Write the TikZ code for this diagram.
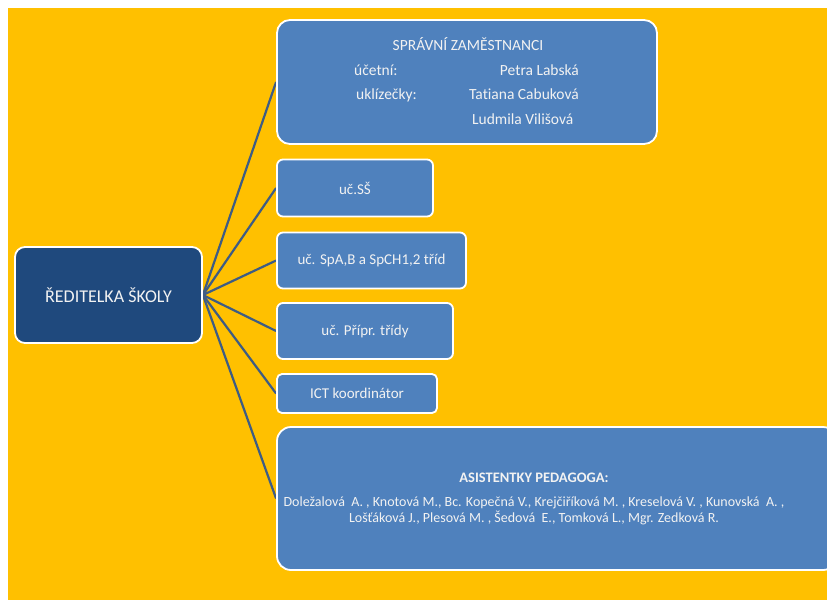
\documentclass[tikz,border=0pt]{standalone}
\usepackage{fontspec}
\setmainfont{Carlito}[Ligatures=NoCommon]
\definecolor{bgorange}{RGB}{255,192,0}
\definecolor{boxblue}{RGB}{79,129,189}
\definecolor{headblue}{RGB}{31,73,125}
\definecolor{linkblue}{RGB}{62,92,132}
\definecolor{txt}{RGB}{242,242,242}
\pgfdeclarelayer{bottom}
\pgfdeclarelayer{links}
\pgfsetlayers{bottom,links,main}
\tikzset{
  unitbox/.style={draw=white, line width=1.8pt, fill=boxblue, inner sep=0pt,
    text=txt, font=\fontsize{15}{18}\selectfont},
  headbox/.style={unitbox, fill=headblue, font=\fontsize{18}{21}\selectfont},
  link/.style={draw=linkblue, line width=2.2pt},
  lbl/.style={inner sep=0pt, text=txt, font=\fontsize{15.5}{18}\selectfont},
  asitxt/.style={inner sep=0pt, text=txt, font=\fontsize{14}{17}\selectfont, align=center}
}
\begin{document}
\begin{tikzpicture}[x=1pt,y=-1pt]
\useasboundingbox (0,0) rectangle (827,600);
\begin{pgfonlayer}{bottom}
\fill[white] (0,0) rectangle (827,600);
\fill[bgorange] (8,8) rectangle (827,600);
\end{pgfonlayer}

\node[headbox, rounded corners=10pt, minimum width=187pt, minimum height=96pt] (dir) at (108.5,295) {ŘEDITELKA ŠKOLY};

\node[unitbox, rounded corners=13pt, minimum width=380pt, minimum height=124pt] (spr) at (467,82) {};
\node[lbl, anchor=base] (sprt) at (468,50) {SPRÁVNÍ ZAMĚSTNANCI};
\node[lbl, anchor=base west] (uc) at (354,75) {účetní:};
\node[lbl, anchor=base east] (pl) at (579,75) {Petra Labská};
\node[lbl, anchor=base west] (ukl) at (356,99) {uklízečky:};
\node[lbl, anchor=base east] (tc) at (579,99) {Tatiana Cabuková};
\node[lbl, anchor=base west] (lv) at (472,124) {Ludmila Vilišová};

\node[unitbox, rounded corners=6pt, minimum width=156pt, minimum height=57pt] (ss) at (355,188) {uč.SŠ};
\node[unitbox, rounded corners=6pt, minimum width=189pt, minimum height=56pt] (spa) at (371.5,260.5) {uč. SpA,B a SpCH1,2 tříd};
\node[unitbox, rounded corners=6pt, minimum width=176pt, minimum height=56pt] (pri) at (365,331) {uč. Přípr. třídy};
\node[unitbox, rounded corners=5pt, minimum width=160pt, minimum height=39pt] (ict) at (357,393.5) {ICT koordinátor};
\node[unitbox, rounded corners=14pt, minimum width=560pt, minimum height=143pt] (asi) at (557,498.5) {};
\node[asitxt, anchor=base, font=\fontsize{14.5}{17}\selectfont\bfseries] (asit) at (534,482) {ASISTENTKY PEDAGOGA:};
\node[asitxt, anchor=base] (asil1) at (534,506) {Doležalová\ \ A. , Knotová M., Bc. Kopečná V., Krejčiříková M. , Kreselová V. , Kunovská\ \ A. ,};
\node[asitxt, anchor=base] (asil2) at (534,522) {Lošťáková J., Plesová M. , Šedová\ \ E., Tomková L., Mgr. Zedková R.};

\begin{pgfonlayer}{links}
\foreach \t in {spr,ss,spa,pri,ict,asi}
  \draw[link] (dir.east) -- (\t.west);
\end{pgfonlayer}
\end{tikzpicture}
\end{document}
